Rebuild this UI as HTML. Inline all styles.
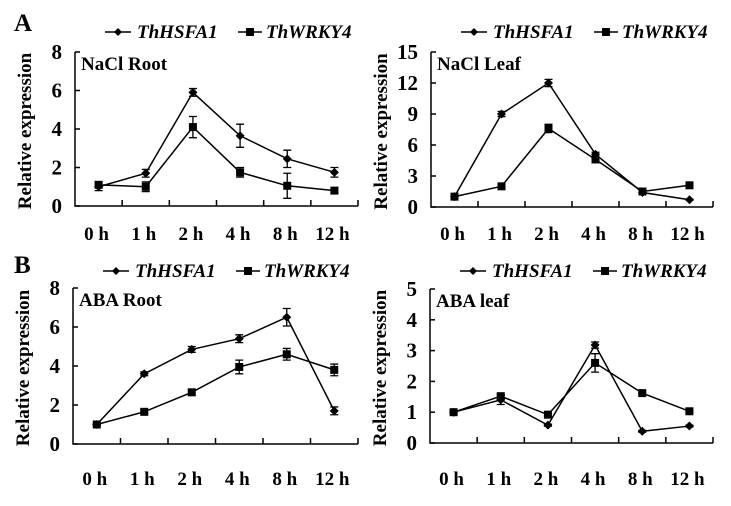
<!DOCTYPE html>
<html><head><meta charset="utf-8"><style>
body{margin:0;background:#fff;}
svg{display:block;font-family:"Liberation Serif",serif;font-weight:bold;}
</style></head><body>
<svg id="c" width="731" height="506"></svg>
<script>
const categories=["0 h","1 h","2 h","4 h","8 h","12 h"];
const rootNaClHSFA1=[1.0,1.7,5.9,3.65,2.45,1.75];
const rootNaClHSFA1Err=[0.2,0.2,0.2,0.6,0.45,0.25];
const rootNaClWRKY4=[1.1,1.0,4.1,1.75,1.05,0.8];
const rootNaClWRKY4Err=[0.15,0.25,0.55,0.25,0.65,0.12];
const leafNaClHSFA1=[1,9,12,5.1,1.4,0.7];
const leafNaClHSFA1Err=[0.1,0.25,0.35,0.2,0.1,0.05];
const leafNaClWRKY4=[1,2,7.6,4.6,1.5,2.1];
const leafNaClWRKY4Err=[0.1,0.2,0.4,0.2,0.1,0.1];
const rootABAHSFA1=[1.0,3.6,4.85,5.4,6.5,1.7];
const rootABAHSFA1Err=[0.05,0.1,0.15,0.2,0.45,0.2];
const rootABAWRKY4=[1.0,1.65,2.65,3.95,4.6,3.8];
const rootABAWRKY4Err=[0.05,0.1,0.15,0.35,0.3,0.3];
const leafABAHSFA1=[1,1.4,0.58,3.18,0.38,0.55];
const leafABAHSFA1Err=[0.05,0.15,0.03,0.1,0.03,0.03];
const leafABAWRKY4=[1,1.52,0.92,2.6,1.62,1.03];
const leafABAWRKY4Err=[0.05,0.07,0.05,0.3,0.04,0.04];
const ticksRootNaCl=[0,2,4,6,8];
const ticksLeafNaCl=[0,3,6,9,12,15];
const ticksRootABA=[0,2,4,6,8];
const ticksLeafABA=[0,1,2,3,4,5];

const NS="http://www.w3.org/2000/svg";
const svg=document.getElementById('c');
function el(tag,attrs,parent,text){const e=document.createElementNS(NS,tag);for(const k in attrs)e.setAttribute(k,attrs[k]);if(text!==undefined)e.textContent=text;(parent||svg).appendChild(e);return e;}

function panel(cfg){
  const g=el('g',{});
  
  
  const x0=cfg.x0,x1=cfg.x1,yTop=cfg.yTop,y0=cfg.y0,max=cfg.ticks[cfg.ticks.length-1];
  const sy=v=>y0-(v/max)*(y0-yTop);
  const step=(x1-x0)/categories.length;
  const sx=i=>x0+step*(i+0.5);
  const ax=el('path',{d:`M${x0},${yTop} V${y0} H${x1}`,stroke:'#000','stroke-width':1.5,fill:'none'},g);
  
  for(let i=1;i<=categories.length;i++){el('line',{x1:x0+step*i,x2:x0+step*i,y1:y0,y2:y0-6,stroke:'#000','stroke-width':1.5},g);}
  cfg.ticks.forEach(t=>{
    el('line',{x1:x0,x2:x0+5,y1:sy(t),y2:sy(t),stroke:'#000','stroke-width':1.5},g);
    const tl=el('text',{x:x0-13,y:sy(t)+7,'text-anchor':'end','font-size':21},g,String(t));
    
  });
  categories.forEach((c,i)=>{
    const t=el('text',{x:sx(i)-2,y:cfg.labY,'text-anchor':'middle','font-size':19},g,c);
    
  });
  const yt=el('text',{x:0,y:0,transform:`translate(${x0-44},${(yTop+y0)/2+2}) rotate(-90)`,'text-anchor':'middle','font-size':19},g,'Relative expression');
  
  const pt=el('text',{x:x0+6,y:yTop+18,'font-size':19},g,cfg.title);
  
  const ly=cfg.legY, lx=x0+30;
  const lg=el('g',{},g);
  el('line',{x1:lx,x2:lx+26,y1:ly,y2:ly,stroke:'#000','stroke-width':1.5},lg);
  el('path',{d:`M${lx+13},${ly-4} L${lx+17},${ly} L${lx+13},${ly+4} L${lx+9},${ly}Z`,fill:'#000'},lg);
  el('text',{x:lx+32,y:ly+6,'font-size':19,'font-style':'italic'},lg,'ThHSFA1');
  el('line',{x1:lx+133,x2:lx+157,y1:ly,y2:ly,stroke:'#000','stroke-width':1.5},lg);
  el('rect',{x:lx+141,y:ly-4,width:8,height:8,fill:'#000'},lg);
  el('text',{x:lx+161,y:ly+6,'font-size':19,'font-style':'italic'},lg,'ThWRKY4');
  [[cfg.a,cfg.ae,'diamond','series-thhsfa1'],[cfg.b,cfg.be,'square','series-thwrky4']].forEach(([vals,errs,shape,nm])=>{
    const sg=el('g',{},g);
    el('polyline',{points:vals.map((v,i)=>`${sx(i)},${sy(v)}`).join(' '),fill:'none',stroke:'#000','stroke-width':1.5},sg);
    vals.forEach((v,i)=>{
      const x=sx(i),yh=sy(v+errs[i]),yl=sy(v-errs[i]);
      el('path',{d:`M${x},${yh}V${yl}M${x-4},${yh}H${x+4}M${x-4},${yl}H${x+4}`,stroke:'#000','stroke-width':1.3,fill:'none'},sg);
      let m;
      if(shape==='diamond') m=el('path',{d:`M${x},${sy(v)-4.5}L${x+4.5},${sy(v)}L${x},${sy(v)+4.5}L${x-4.5},${sy(v)}Z`,fill:'#000'},sg);
      else m=el('rect',{x:x-4,y:sy(v)-4,width:8,height:8,fill:'#000'},sg);
      
    });
  });
}
panel({name:'nacl-root-chart',x0:75,x1:358,yTop:52,y0:206,labY:240,legY:32,ticks:ticksRootNaCl,title:'NaCl Root',a:rootNaClHSFA1,ae:rootNaClHSFA1Err,b:rootNaClWRKY4,be:rootNaClWRKY4Err});
panel({name:'nacl-leaf-chart',x0:431,x1:713,yTop:52,y0:207,labY:240,legY:32,ticks:ticksLeafNaCl,title:'NaCl Leaf',a:leafNaClHSFA1,ae:leafNaClHSFA1Err,b:leafNaClWRKY4,be:leafNaClWRKY4Err});
panel({name:'aba-root-chart',x0:73,x1:358,yTop:288,y0:444,labY:485,legY:271,ticks:ticksRootABA,title:'ABA Root',a:rootABAHSFA1,ae:rootABAHSFA1Err,b:rootABAWRKY4,be:rootABAWRKY4Err});
panel({name:'aba-leaf-chart',x0:430,x1:713,yTop:289,y0:443,labY:485,legY:271,ticks:ticksLeafABA,title:'ABA leaf',a:leafABAHSFA1,ae:leafABAHSFA1Err,b:leafABAWRKY4,be:leafABAWRKY4Err});
const A=el('text',{x:14,y:31,'font-size':25},svg,'A');
const B=el('text',{x:14,y:273,'font-size':25},svg,'B');
</script>
</body></html>
